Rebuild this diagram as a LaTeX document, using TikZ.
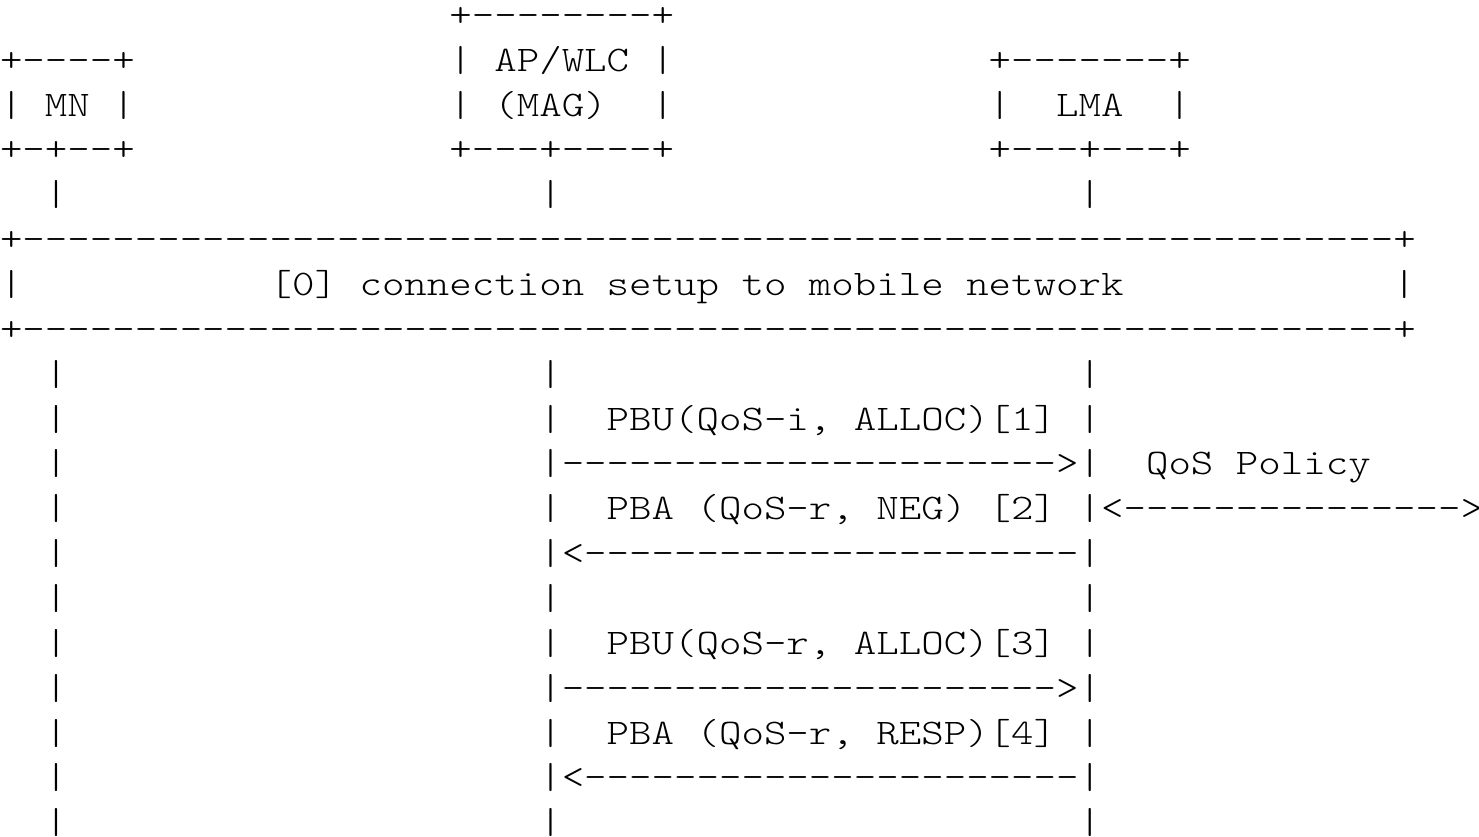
\documentclass[tikz,border=0pt]{standalone}
\usepackage{fontspec}
\setmonofont{Latin Modern Mono Light}[FakeStretch=1.189]
\ExplSyntaxOn
\newcommand\dashrun[1]{\prg_replicate:nn{#1}{-}}
\ExplSyntaxOff
% character grid: column width, baseline of row 3, row pitch (in px)
\def\colw{22.47}
\def\basey{116}
\def\rowp{44.86}
% one run of characters starting at a given column and row
\newcommand\seg[4]{\node[txt] (#1) at ({#2*\colw},{\basey+(#3-3)*\rowp}) {#4};}
\begin{document}
\begin{tikzpicture}[x=0.5pt,y=-0.5pt,
  txt/.style={anchor=base west, inner sep=0pt, outer sep=0pt,
    font=\ttfamily\fontsize{18pt}{22pt}\selectfont, text=black}]
\fill[white] (0,0) rectangle (1479,836);
\useasboundingbox (0,0) rectangle (1479,836);
% entity boxes
\seg{apTop}{20}{1}{+\dashrun{8}+}
\seg{mnTop}{0}{2}{+\dashrun{4}+}
\seg{apName}{20}{2}{| AP/WLC |}
\seg{lmaTop}{44}{2}{+\dashrun{7}+}
\seg{mnName}{0}{3}{| MN |}
\seg{apRole}{20}{3}{| (MAG)~~|}
\seg{lmaName}{44}{3}{|~~LMA~~|}
\seg{mnBot}{0}{4}{+-+--+}
\seg{apBot}{20}{4}{+---+----+}
\seg{lmaBot}{44}{4}{+---+---+}
% lifelines above the setup box
\seg{mnL5}{2}{5}{|}
\seg{apL5}{24}{5}{|}
\seg{lmaL5}{48}{5}{|}
% connection setup box
\seg{setupTop}{0}{6}{+\dashrun{61}+}
\seg{setupL}{0}{7}{|}
\seg{setupTxt}{12}{7}{[0] connection setup to mobile network}
\seg{setupR}{62}{7}{|}
\seg{setupBot}{0}{8}{+\dashrun{61}+}
% message exchange
\seg{mnL9}{2}{9}{|}
\seg{apL9}{24}{9}{|}
\seg{lmaL9}{48}{9}{|}
\seg{mnL10}{2}{10}{|}
\seg{msgA}{24}{10}{|~~PBU(QoS-i, ALLOC)[1]~|}
\seg{mnL11}{2}{11}{|}
\seg{arrA}{24}{11}{|\dashrun{22}>|~~QoS Policy}
\seg{mnL12}{2}{12}{|}
\seg{msgB}{24}{12}{|~~PBA (QoS-r, NEG) [2]~|<\dashrun{15}>}
\seg{mnL13}{2}{13}{|}
\seg{arrB}{24}{13}{|<\dashrun{22}|}
\seg{mnL14}{2}{14}{|}
\seg{apL14}{24}{14}{|}
\seg{lmaL14}{48}{14}{|}
\seg{mnL15}{2}{15}{|}
\seg{msgC}{24}{15}{|~~PBU(QoS-r, ALLOC)[3]~|}
\seg{mnL16}{2}{16}{|}
\seg{arrC}{24}{16}{|\dashrun{22}>|}
\seg{mnL17}{2}{17}{|}
\seg{msgD}{24}{17}{|~~PBA (QoS-r, RESP)[4]~|}
\seg{mnL18}{2}{18}{|}
\seg{arrD}{24}{18}{|<\dashrun{22}|}
\seg{mnL19}{2}{19}{|}
\seg{apL19}{24}{19}{|}
\seg{lmaL19}{48}{19}{|}
\end{tikzpicture}
\end{document}
